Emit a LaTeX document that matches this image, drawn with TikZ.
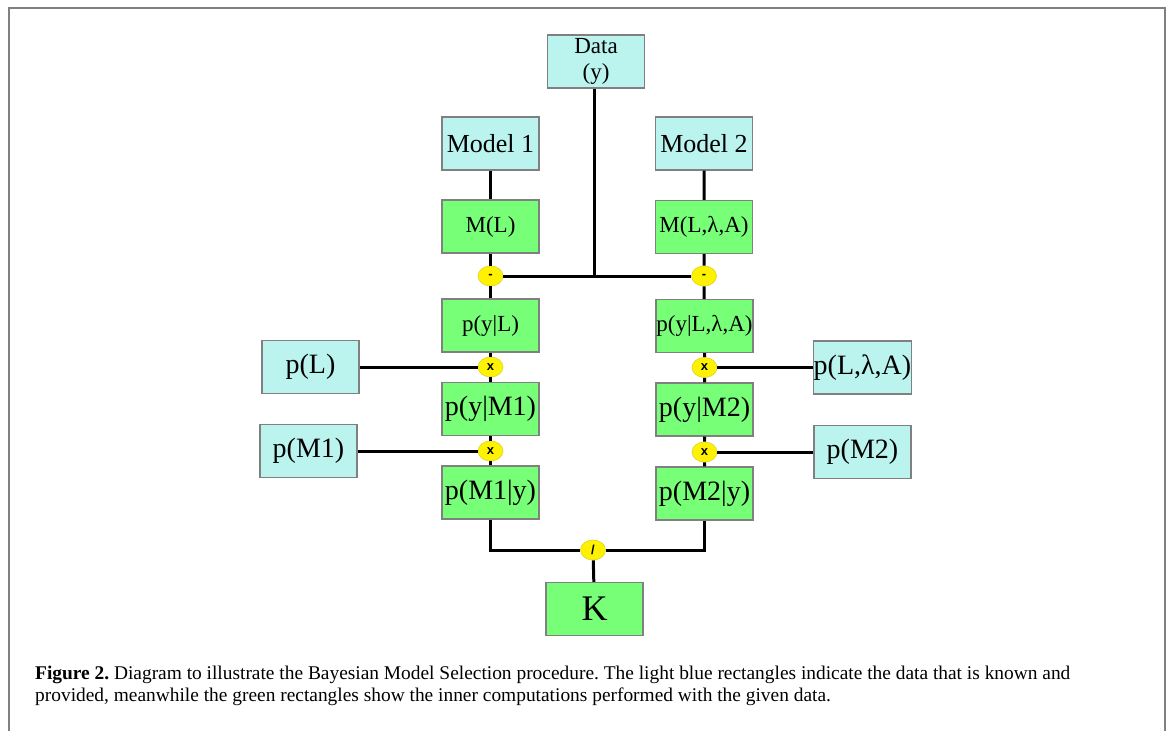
\documentclass[tikz,border=0pt]{standalone}
\usepackage{fontspec}
\setmainfont{Liberation Serif}
\newfontfamily\opfont{Liberation Sans}
\usetikzlibrary{shapes.geometric}
\definecolor{known}{HTML}{BBF3EF}
\definecolor{calc}{HTML}{78FF78}
\definecolor{edge}{HTML}{808080}
\frenchspacing
\begin{document}
\begin{tikzpicture}[x=1pt,y=-1pt,
    box/.style={draw=edge,line width=1.2pt,minimum width=97pt,minimum height=53pt,inner sep=0pt,align=center},
    known/.style={box,fill=known},
    calc/.style={box,fill=calc},
    op/.style={ellipse,fill=yellow,draw=yellow!85!black,line width=0.6pt,minimum width=25pt,minimum height=20pt,inner sep=0pt,font=\opfont\bfseries\fontsize{13}{13}\selectfont},
    link/.style={line width=3pt}]
  \useasboundingbox (0,0) rectangle (1172,731);
  \draw[edge,line width=2pt] (8.5,731) -- (8.5,7.5) -- (1164.5,7.5) -- (1164.5,731);

  % known data
  \node[known,font=\fontsize{23}{26}\selectfont] (data) at (596,61.5) {Data\\(y)};
  \node[known,font=\fontsize{26}{28}\selectfont] (model1) at (490.5,143.5) {Model 1};
  \node[known,font=\fontsize{26}{28}\selectfont] (model2) at (704,143.5) {Model 2};
  \node[known,font=\fontsize{28}{30}\selectfont] (pL) at (310.5,367) {p(L)};
  \node[known,font=\fontsize{28}{30}\selectfont] (pM1) at (308.5,451) {p(M1)};
  \node[known,font=\fontsize{28}{30}\selectfont] (pLla) at (862.5,367.5) {p(L,λ,A)};
  \node[known,font=\fontsize{28}{30}\selectfont] (pM2) at (862.5,452) {p(M2)};

  % computations
  \node[calc,font=\fontsize{23}{25}\selectfont] (ml) at (490.5,226.5) {M(L)};
  \node[calc,font=\fontsize{23}{25}\selectfont] (mlla) at (704,227) {M(L,λ,A)};
  \node[calc,font=\fontsize{23}{25}\selectfont] (pyL) at (490.5,325.5) {p(y|L)};
  \node[calc,font=\fontsize{23}{25}\selectfont] (pyLla) at (704.5,326) {p(y|L,λ,A)};
  \node[calc,font=\fontsize{28}{30}\selectfont] (pyM1) at (490.5,409) {p(y|M1)};
  \node[calc,font=\fontsize{28}{30}\selectfont] (pyM2) at (704.5,409.5) {p(y|M2)};
  \node[calc,font=\fontsize{28}{30}\selectfont] (pM1y) at (490.5,492.5) {p(M1|y)};
  \node[calc,font=\fontsize{28}{30}\selectfont] (pM2y) at (704.5,493.5) {p(M2|y)};
  \node[calc,font=\fontsize{36}{38}\selectfont] (K) at (594.5,609) {K};

  % operations
  \node[op] (minusL) at (490.5,276) {-};
  \node[op] (minusR) at (704,276) {-};
  \node[op] (timesA) at (490.5,367) {x};
  \node[op] (timesB) at (490.5,451) {x};
  \node[op] (timesC) at (704.5,367.5) {x};
  \node[op] (timesD) at (704.5,452) {x};
  \node[op] (div) at (593,550) {/};

  \draw[link] (model1) -- (ml) -- (minusL) -- (pyL) -- (timesA) -- (pyM1) -- (timesB) -- (pM1y);
  \draw[link] (model2) -- (mlla) -- (minusR) -- (pyLla) -- (timesC) -- (pyM2) -- (timesD) -- (pM2y);
  \draw[link] (minusL) -- (minusR);
  \draw[link] (data.south -| 594,0) -- (594,276);
  \draw[link] (pL) -- (timesA);
  \draw[link] (pM1) -- (timesB);
  \draw[link] (pLla) -- (timesC);
  \draw[link] (pM2) -- (timesD);
  \draw[link] (pM1y) |- (div);
  \draw[link] (pM2y) |- (div);
  \draw[link] (div) -- (K);

  \node[anchor=base west,inner sep=0pt,font=\fontsize{19.4}{22}\selectfont] (cap1) at (35,679) {\textbf{Figure 2.} Diagram to illustrate the Bayesian Model Selection procedure. The light blue rectangles indicate the data that is known and};
  \node[anchor=base west,inner sep=0pt,font=\fontsize{19.4}{22}\selectfont] (cap2) at (35,701) {provided, meanwhile the green rectangles show the inner computations performed with the given data.};
\end{tikzpicture}
\end{document}
